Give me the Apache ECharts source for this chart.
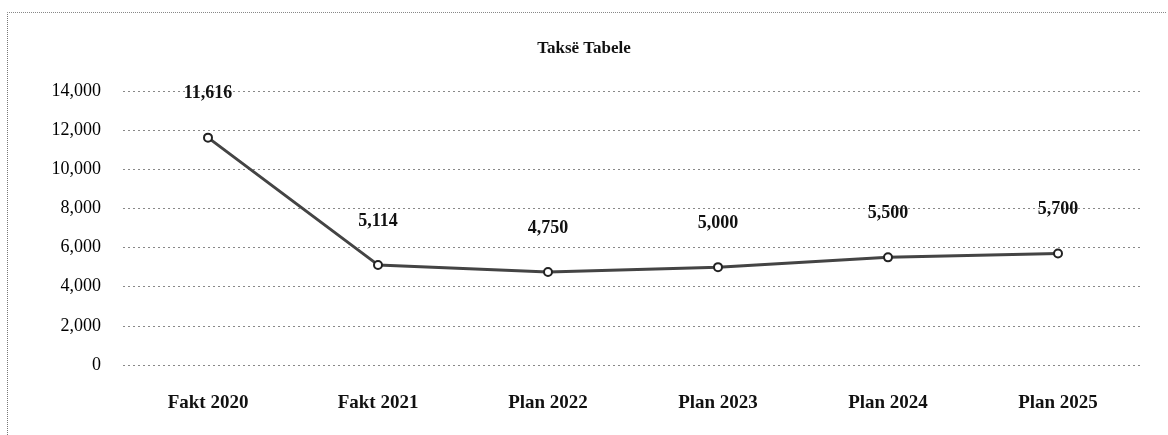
<!DOCTYPE html>
<html>
<head>
<meta charset="utf-8">
<script src="https://cdn.jsdelivr.net/npm/echarts@6/dist/echarts.min.js"></script>
<style>
  html, body { margin: 0; padding: 0; background: #fff; }
  #chart { width: 1168px; height: 435px; }
  #frame { position: absolute; left: 7px; top: 12px; width: 1158px; height: 430px;
           border-left: 1px dotted #777; border-top: 1px dotted #888; pointer-events: none; }
</style>
</head>
<body>
<div id="chart"></div>
<div id="frame"></div>
<script>
  // categories and values
  var categories = ['Fakt 2020', 'Fakt 2021', 'Plan 2022', 'Plan 2023', 'Plan 2024', 'Plan 2025'];
  var values = [11616, 5114, 4750, 5000, 5500, 5700];
  var yTicks = [0, 2000, 4000, 6000, 8000, 10000, 12000, 14000];

  var fmt = function (v) {
    return Number(v).toLocaleString('en-US');
  };
  var serif = '"Liberation Serif", "DejaVu Serif", serif';

  var chart = echarts.init(document.getElementById('chart'));
  chart.setOption({
    animation: false,
    title: {
      text: 'Taksë Tabele',
      left: 'center',
      top: 35,
      textStyle: { fontFamily: serif, fontSize: 17, fontWeight: 'bold', color: '#111' }
    },
    grid: {
      left: 123,
      right: 25,
      top: 91,
      bottom: 70
    },
    xAxis: {
      type: 'category',
      data: categories,
      boundaryGap: true,
      axisLine: { show: false },
      axisTick: { show: false },
      axisLabel: {
        margin: 29,
        fontFamily: serif,
        fontSize: 19,
        fontWeight: 'bold',
        color: '#111'
      }
    },
    yAxis: {
      type: 'value',
      min: yTicks[0],
      max: yTicks[yTicks.length - 1],
      interval: 2000,
      axisLine: { show: false },
      axisTick: { show: false },
      axisLabel: {
        margin: 22,
        fontFamily: serif,
        fontSize: 18,
        color: '#000',
        formatter: fmt
      },
      splitLine: {
        lineStyle: { color: '#888', type: [2, 3], width: 1 }
      }
    },
    series: [{
      type: 'line',
      data: values,
      symbol: 'circle',
      symbolSize: 8,
      lineStyle: { color: '#444', width: 3 },
      itemStyle: { color: '#fff', borderColor: '#222', borderWidth: 2 },
      label: {
        show: true,
        position: 'top',
        distance: 30,
        fontFamily: serif,
        fontSize: 18,
        fontWeight: 'bold',
        color: '#111',
        formatter: function (p) { return fmt(p.value); }
      }
    }]
  });
</script>
</body>
</html>
